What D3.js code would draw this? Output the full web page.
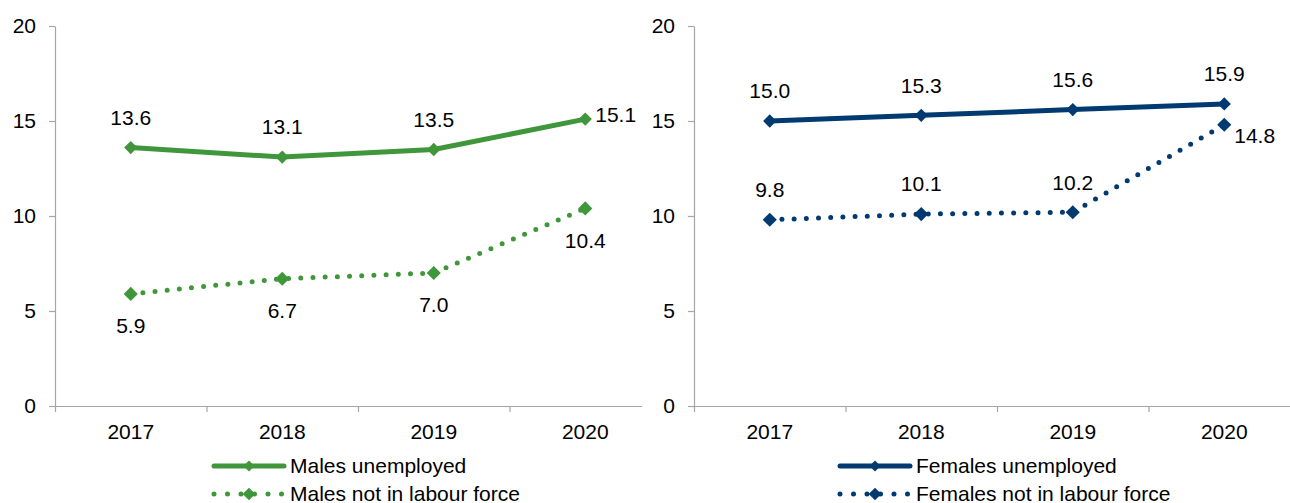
<!DOCTYPE html>
<html>
<head>
<meta charset="utf-8">
<script src="https://cdn.jsdelivr.net/npm/d3@7"></script>
<style>
  html, body { margin: 0; padding: 0; background: #fff; }
  svg { display: block; font-family: "Liberation Sans", Arial, sans-serif; }
  .axis path, .axis line { stroke: #a6a6a6; stroke-width: 1.2; }
  .axis text { font-size: 21px; fill: #000; font-family: "Liberation Sans", Arial, sans-serif; }
  .lbl { font-size: 21px; fill: #000; }
  .leg { font-size: 21px; fill: #000; }
</style>
</head>
<body>
<svg id="chart" width="1290" height="503"></svg>
<script>
// Unemployment shares by sex, 2017-2020: two side-by-side panels
const years = ["2017", "2018", "2019", "2020"];
const malesUnemployed = [13.6, 13.1, 13.5, 15.1];
const malesNotInLabourForce = [5.9, 6.7, 7.0, 10.4];
const femalesUnemployed = [15.0, 15.3, 15.6, 15.9];
const femalesNotInLabourForce = [9.8, 10.1, 10.2, 14.8];
const yTicks = [0, 5, 10, 15, 20];

const GREEN = "#40963a", NAVY = "#003a70";

const svg = d3.select("#chart");
const y = d3.scaleLinear([0, 20], [406, 26]);

// label placement per point: "a" above, "b" below, "r" right
const place = {
  a: { dx: 0, dy: -30, anchor: "middle" },
  b: { dx: 0, dy: 32, anchor: "middle" },
};

function drawPanel(x0, x1, clipRight, series, legendX) {
  const g = svg.append("g");
  if (clipRight != null) {
    const id = "clip" + Math.round(x0);
    svg.append("defs").append("clipPath").attr("id", id)
      .append("rect").attr("x", 0).attr("y", 0).attr("width", clipRight).attr("height", 503);
    g.attr("clip-path", `url(#${id})`);
  }
  const band = d3.scaleBand(years, [x0, x1]);
  const cx = (d) => band(d) + band.bandwidth() / 2;
  const edges = d3.scaleLinear([0, years.length], [x0, x1]);

  g.append("g").attr("class", "axis").attr("transform", `translate(${x0},0)`)
    .call(d3.axisLeft(y).tickValues(yTicks).tickSize(6).tickPadding(13).tickSizeOuter(0));
  g.append("g").attr("class", "axis").attr("transform", `translate(0,${y(0)})`)
    .call(d3.axisBottom(edges).tickValues(d3.range(years.length + 1)).tickSize(6)
      .tickFormat("").tickSizeOuter(0));
  g.append("g").attr("class", "axis x-labels").attr("transform", `translate(0,${y(0)})`)
    .call(d3.axisBottom(band).tickSize(0).tickPadding(18))
    .call((s) => s.select(".domain").remove());

  series.forEach((s) => {
    const pts = s.values.map((v, i) => ({ x: cx(years[i]), y: y(v), v, pos: s.pos[i] }));
    g.append("path").datum(pts)
      .attr("fill", "none").attr("stroke", s.color)
      .attr("stroke-width", 5).attr("stroke-linecap", "round").attr("stroke-linejoin", "round")
      .attr("stroke-dasharray", s.dotted ? "0 12.2" : null)
      .attr("d", d3.line().x((p) => p.x).y((p) => p.y));
    g.selectAll(null).data(pts).join("path")
      .attr("transform", (p) => `translate(${p.x},${p.y}) rotate(45)`)
      .attr("fill", s.color)
      .attr("d", d3.symbol(d3.symbolSquare, s.dotted ? 100 : 88)());
    g.selectAll(null).data(pts).join("text").attr("class", "lbl")
      .each(function (p) {
        const o = typeof p.pos === "string" ? place[p.pos] : p.pos;
        d3.select(this).attr("x", p.x + o.dx).attr("y", p.y + o.dy)
          .attr("dy", "0.35em").attr("text-anchor", o.anchor);
      })
      .text((p) => p.v.toFixed(1));
  });

  // legend
  series.forEach((s, i) => {
    const ly = 466 + i * 28;
    const lg = svg.append("g");
    lg.append("line").attr("x1", legendX).attr("x2", legendX + 70).attr("y1", ly).attr("y2", ly)
      .attr("stroke", s.color).attr("stroke-width", 5).attr("stroke-linecap", "round")
      .attr("stroke-dasharray", s.dotted ? "0 13.5" : null);
    lg.append("path").attr("transform", `translate(${legendX + 35},${ly}) rotate(45)`)
      .attr("fill", s.color).attr("d", d3.symbol(d3.symbolSquare, s.dotted ? 80 : 60)());
    lg.append("text").attr("class", "leg").attr("x", legendX + 76).attr("y", ly)
      .attr("dy", "0.33em").text(s.name);
  });
}

drawPanel(55, 661, 642, [
  { name: "Males unemployed", values: malesUnemployed, color: GREEN, dotted: false,
    pos: ["a", "a", "a", { dx: 10, dy: -4, anchor: "start" }] },
  { name: "Males not in labour force", values: malesNotInLabourForce, color: GREEN, dotted: true,
    pos: ["b", "b", "b", "b"] },
], 214);

drawPanel(694, 1300, null, [
  { name: "Females unemployed", values: femalesUnemployed, color: NAVY, dotted: false,
    pos: ["a", "a", "a", "a"] },
  { name: "Females not in labour force", values: femalesNotInLabourForce, color: NAVY, dotted: true,
    pos: ["a", "a", "a", { dx: 10, dy: 11, anchor: "start" }] },
], 840);
</script>
</body>
</html>
